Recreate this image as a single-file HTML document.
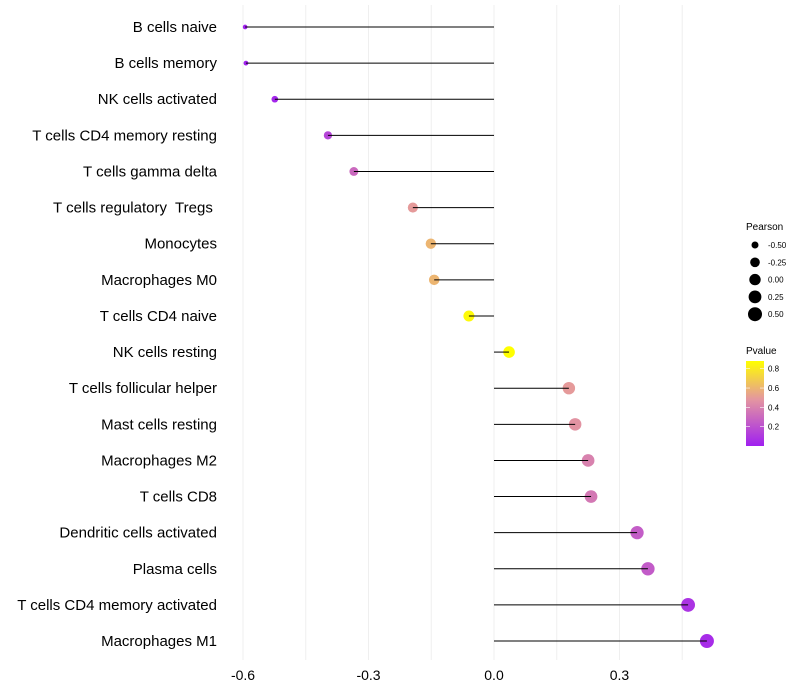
<!DOCTYPE html>
<html><head><meta charset="utf-8"><style>body{margin:0;background:#fff}svg{display:block;font-family:"Liberation Sans",sans-serif}text{white-space:pre}</style></head>
<body>
<svg id="chart" width="800" height="700" viewBox="0 0 800 700">
<g id="grid"></g><g id="marks"></g><g id="ylabels"></g><g id="xlabels"></g><g id="legend"></g>
</svg>
<script>
const categories=["B cells naive","B cells memory","NK cells activated","T cells CD4 memory resting","T cells gamma delta","T cells regulatory  Tregs ","Monocytes","Macrophages M0","T cells CD4 naive","NK cells resting","T cells follicular helper","Mast cells resting","Macrophages M2","T cells CD8","Dendritic cells activated","Plasma cells","T cells CD4 memory activated","Macrophages M1"];
const pearson=[-0.595,-0.593,-0.524,-0.397,-0.335,-0.194,-0.151,-0.143,-0.060,0.036,0.179,0.194,0.225,0.232,0.342,0.368,0.464,0.509];
const pvalue=[0.01,0.01,0.03,0.15,0.3,0.5,0.6,0.6,0.86,0.9,0.5,0.47,0.4,0.36,0.25,0.24,0.08,0.05];
const xTicks=[-0.6,-0.3,0.0,0.3];
const xTickLabels=["-0.6","-0.3","0.0","0.3"];
const gridVals=[-0.6,-0.45,-0.3,-0.15,0,0.15,0.3,0.45];
const sizeBreaks=[-0.5,-0.25,0,0.25,0.5];
const sizeLabels=["-0.50","-0.25","0.00","0.25","0.50"];
const pBreaks=[0.2,0.4,0.6,0.8];

const NS="http://www.w3.org/2000/svg";
const x=v=>494+v*418.3;
const y=i=>27+i*36.12;
const r=v=>2+5*Math.sqrt(Math.max(0,(v+0.6)/1.1));
function lerp(a,b,t){return a.map((c,k)=>Math.round(c+(b[k]-c)*t));}
function col(p){const t=Math.max(0,Math.min(1,p/0.88));const A=[160,32,240],M=[228,150,160],B=[255,255,0];
const c=t<0.55?lerp(A,M,t/0.55):lerp(M,B,(t-0.55)/0.45);return `rgb(${c[0]},${c[1]},${c[2]})`;}
function mk(tag,at,parent,txt){const e=document.createElementNS(NS,tag);for(const k in at)e.setAttribute(k,at[k]);if(txt!==undefined)e.textContent=txt;parent.appendChild(e);return e;}
const grid=document.getElementById('grid'),marks=document.getElementById('marks'),yl=document.getElementById('ylabels'),xl=document.getElementById('xlabels'),lg=document.getElementById('legend');
gridVals.forEach(v=>{const e=mk('line',{x1:x(v),x2:x(v),y1:5,y2:660,stroke:'#efefef','stroke-width':1},grid);

});
categories.forEach((c,i)=>{
const pt=mk('circle',{cx:x(pearson[i]),cy:y(i),r:r(pearson[i]),fill:col(pvalue[i])},marks);


const ln=mk('line',{x1:x(0),x2:x(pearson[i]),y1:y(i),y2:y(i),stroke:'#000','stroke-width':1},marks);


const t=mk('text',{x:217,y:y(i)+5,'text-anchor':'end','font-size':15,fill:'#000'},yl,c);

});
xTicks.forEach((v,i)=>{const t=mk('text',{x:x(v),y:680,'text-anchor':'middle','font-size':14,fill:'#000'},xl,xTickLabels[i]);

});
const lt=mk('text',{x:746,y:230,'font-size':10},lg,'Pearson');


sizeBreaks.forEach((v,i)=>{const cy=245+i*17.3;
const c=mk('circle',{cx:755,cy:cy,r:r(v),fill:'#000'},lg);


const t=mk('text',{x:768,y:cy+3,'font-size':8},lg,sizeLabels[i]);

});
const pt2=mk('text',{x:746,y:354,'font-size':10},lg,'Pvalue');


const defs=mk('defs',{},lg);const gr=mk('linearGradient',{id:'pg',x1:0,y1:1,x2:0,y2:0},defs);
[[0,col(0)],[0.55,col(0.484)],[1,col(0.88)]].forEach(s=>mk('stop',{offset:s[0],'stop-color':s[1]},gr));
const bar=mk('rect',{x:746,y:361,width:18,height:85,fill:'url(#pg)'},lg);


const py=p=>446-p*96.6;
pBreaks.forEach(p=>{mk('line',{x1:746,x2:750,y1:py(p),y2:py(p),stroke:'#fff','stroke-width':0.6},lg);mk('line',{x1:760,x2:764,y1:py(p),y2:py(p),stroke:'#fff','stroke-width':0.6},lg);
const t=mk('text',{x:768,y:py(p)+3,'font-size':8},lg,p.toFixed(1));

});
</script>
</body></html>
